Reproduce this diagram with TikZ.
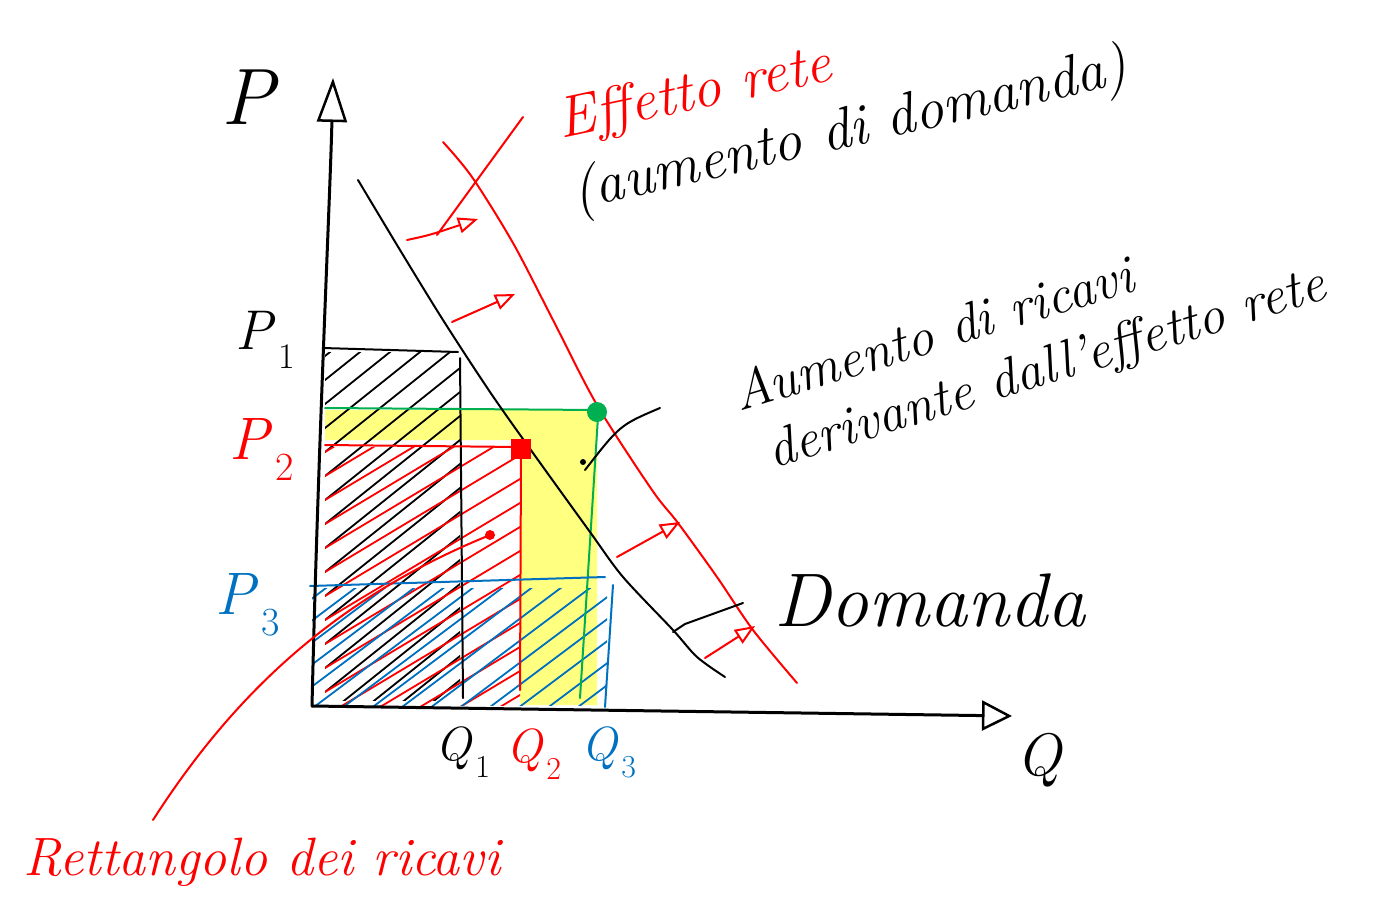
\documentclass[tikz,border=0pt]{standalone}
\usetikzlibrary{arrows.meta,calc}
\definecolor{pred}{RGB}{255,0,0}
\definecolor{pblue}{RGB}{0,112,192}
\definecolor{pgreen}{RGB}{0,176,80}
\definecolor{pyellow}{RGB}{255,255,128}
\newcommand{\lblsub}[3]{\textit{#1}\kern0.05em\raisebox{-0.35em}{\fontsize{#3}{#3}\selectfont #2}}
\begin{document}
\begin{tikzpicture}[x=1pt,y=-1pt,line cap=round,line join=round,
  axisline/.style={line width=3pt},
  thin line/.style={line width=2pt},
  hatch/.style={line width=1.8pt},
  shiftarrow/.style={pred,line width=2pt,-{Triangle[open,length=20pt,width=16pt,line width=2pt]}},
  hw/.style={font=\fontsize{#1}{#1}\selectfont\itshape,inner sep=0pt},
  lbl/.style={font=\fontsize{#1}{#1}\selectfont,inner sep=0pt}]
\useasboundingbox (0,0) rectangle (1397,916);

% yellow region
\fill[pyellow] (325,410) -- (597,410) -- (597,705) -- (520,705) -- (520,440) -- (325,440) -- cycle;

% black hatching
\begin{scope}
\clip (325,352) rectangle (460,700);
\foreach \k in {0,...,22} \draw[hatch,black] (320,360+\k*24) -- ++(260,-208);
\end{scope}
% red hatching
\begin{scope}
\clip (325,447) rectangle (520,705);
\foreach \k in {0,...,20} \draw[hatch,pred] (320,455+\k*24) -- ++(300,-180);
\end{scope}
% blue hatching
\begin{scope}
\clip (312,588) rectangle (607,705);
\foreach \k in {0,...,30} \draw[hatch,pblue] (310,600+\k*22) -- ++(400,-300);
\end{scope}

% rectangle edges
\draw[thin line,black] (323,348) -- (458,352);
\draw[thin line,black] (460,358) -- (463,698);
\draw[thin line,pgreen] (325,408) -- (598,410);
\draw[thin line,pgreen] (598,417) -- (580,698);
\draw[thin line,pred] (325,445) -- (520,447);
\draw[thin line,pred] (521,455) -- (520,690);
\draw[thin line,pblue] (310,586) -- (605,577);
\draw[thin line,pblue] (613,585) -- (605,707);

% axes
\coordinate (O) at (312,706);
\coordinate (Ytop) at (333,78);
\coordinate (Xend) at (1012,716);
\draw[axisline,-{Triangle[open,length=44pt,width=30pt,line width=2.5pt]}] (O) .. controls (318,450) and (330,200) .. (Ytop);
\draw[axisline,-{Triangle[open,length=30pt,width=30pt,line width=2.5pt]}] (O) -- (Xend);

% demand curves
\draw[thin line,black] plot[smooth] coordinates {(358,180) (400,250) (443,320) (490,392) (533,453) (590,532) (623,577) (673,630) (697,657) (725,677)};
\draw[thin line,pred] plot[smooth] coordinates {(443,142) (472,177) (513,243) (553,320) (597,405) (652,490) (678,523) (717,577) (753,630) (797,683)};

% points
\coordinate (A) at (521,449);
\coordinate (B) at (597,412);
\fill[pred] ($(A)+(-10,-10)$) rectangle ($(A)+(10,10)$);
\fill[pgreen] (B) circle (10);

% shift arrows
\draw[shiftarrow] (407,240) .. controls (430,235) .. (478,219);
\draw[shiftarrow] (452,322) -- (515,294);
\draw[shiftarrow] (617,557) -- (680,522);
\draw[shiftarrow] (705,658) -- (755,626);

% labels
\node[lbl=80] (P) at (250,97) {\textit{P}};
\node[lbl=56] (P1) at (265,340) {\lblsub{P}{1}{36}};
\node[lbl=60,pred] (P2) at (262,450) {\lblsub{P}{2}{40}};
\node[lbl=60,pblue] (P3) at (248,605) {\lblsub{P}{3}{40}};
\node[lbl=60] (Q) at (1040,760) {\textit{Q}};
\node[lbl=48] (Q1) at (463,752) {\lblsub{Q}{1}{32}};
\node[lbl=48,pred] (Q2) at (534,754) {\lblsub{Q}{2}{32}};
\node[lbl=48,pblue] (Q3) at (609,752) {\lblsub{Q}{3}{32}};

% texts
\node[hw=58,pred,rotate=12] (eff) at (695,95) {Effetto rete};
\node[hw=58,rotate=13] (aum) at (850,132) {(aumento di domanda)};
\node[font=\fontsize{54}{64}\selectfont\itshape,inner sep=0pt,align=left,rotate=17] (ric) at (1030,342)
  {Aumento di ricavi\\\hspace*{16pt}derivante dall'effetto rete};
\node[hw=76] (dom) at (930,600) {Domanda};
\node[hw=54,pred] (rett) at (262,862) {Rettangolo dei ricavi};

% leaders
\coordinate (effS) at (523,117);
\coordinate (effE) at (437,235);
\draw[thin line,pred] (effS) -- (effE);
\coordinate (aumS) at (660,408);
\coordinate (aumE) at (585,470);
\draw[thin line,black] (aumS) .. controls (620,425) .. (aumE);
\fill[black] (583,462) circle (3);
\coordinate (domS) at (743,603);
\coordinate (domE) at (673,632);
\draw[thin line,black] (domS) -- (685,624) -- (domE);
\coordinate (retS) at (153,820);
\coordinate (retE) at (490,535);
\draw[thin line,pred] (retS) .. controls (230,700) and (330,600) .. (retE);
\fill[pred] (retE) circle (5);
\end{tikzpicture}
\end{document}
